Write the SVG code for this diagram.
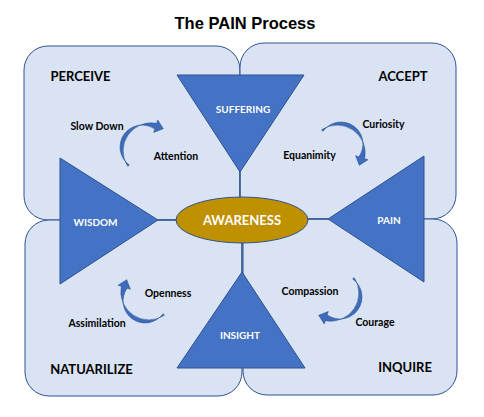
<svg xmlns="http://www.w3.org/2000/svg" xmlns:xlink="http://www.w3.org/1999/xlink" width="484" height="417" viewBox="0 0 484 417">
<style>
.box{fill:#DAE3F3;stroke:#2F528F;stroke-width:1}
.tri{fill:#4472C4;stroke:#2F528F;stroke-width:1}
.conn{stroke:#2F528F;stroke-width:1.2;fill:none}
.arr{fill:#3E6CBA;stroke:#2F5597;stroke-width:0.6}
.lbl{font-family:Lato,"Liberation Sans",sans-serif;font-weight:bold;fill:#000;text-anchor:middle}
.sm{font-size:10.5px}
.big{font-size:13px}
.wt{font-family:Lato,"Liberation Sans",sans-serif;font-weight:bold;fill:#fff;text-anchor:middle;font-size:10px}
</style>
<defs>
<path id="carrow" class="arr" d="M -20.2,16.36 A 28 28 0 0 1 8.65,-26.63 L 9.73,-29.96 L 15.34,-21.31 L 5.72,-17.6 L 6.8,-20.92 A 22 22 0 0 0 -18.65,15.1 Z"/>
</defs>
<rect width="484" height="417" fill="#fff"/>
<text x="245" y="29" style="font-family:'Liberation Sans',Arial,sans-serif;font-weight:bold;font-size:16.5px;text-anchor:middle">The PAIN Process</text>
<g id="perceive-box"><rect class="box" x="24" y="46" width="216" height="174" rx="24"/></g>
<g id="accept-box"><rect class="box" x="240" y="43" width="216" height="176" rx="24"/></g>
<g id="naturalize-box"><rect class="box" x="25" y="220" width="217" height="176" rx="24"/></g>
<g id="inquire-box"><rect class="box" x="243" y="219" width="214" height="176" rx="24"/></g>
<g id="connectors">
<line class="conn" x1="240" y1="172" x2="240" y2="197"/>
<line class="conn" x1="158" y1="220" x2="176" y2="220"/>
<line class="conn" x1="308" y1="219" x2="328" y2="219"/>
<line class="conn" x1="242" y1="242" x2="242" y2="272"/>
</g>
<g id="suffering"><polygon class="tri" points="177,75 304,75 240,172"/><text class="wt" x="243" y="113">SUFFERING</text></g>
<g id="wisdom"><polygon class="tri" points="60,158 60,284 158,220"/><text class="wt" x="95.5" y="226">WISDOM</text></g>
<g id="pain"><polygon class="tri" points="424,156 424,282 328,219"/><text class="wt" x="389" y="224">PAIN</text></g>
<g id="insight"><polygon class="tri" points="242,272 305,368 177,368"/><text class="wt" x="240" y="339">INSIGHT</text></g>
<g id="awareness"><ellipse cx="242" cy="220" rx="66" ry="23" fill="#BF9000" stroke="#2F528F" stroke-width="1"/><text class="wt" x="242" y="225" style="font-size:13px">AWARENESS</text></g>
<g id="arrows">
<use xlink:href="#carrow" transform="translate(148,150)"/>
<use xlink:href="#carrow" transform="translate(338,150) rotate(90)"/>
<use xlink:href="#carrow" transform="translate(334,294) rotate(180)"/>
<use xlink:href="#carrow" transform="translate(148,295) rotate(270)"/>
</g>
<g id="labels">
<text class="lbl big" x="80.5" y="81">PERCEIVE</text>
<text class="lbl big" x="403" y="81">ACCEPT</text>
<text class="lbl big" x="91.5" y="374">NATUARILIZE</text>
<text class="lbl big" x="405" y="372">INQUIRE</text>
<text class="lbl sm" x="97" y="130">Slow Down</text>
<text class="lbl sm" x="176" y="160">Attention</text>
<text class="lbl sm" x="383.5" y="128">Curiosity</text>
<text class="lbl sm" x="309.5" y="159">Equanimity</text>
<text class="lbl sm" x="168" y="297">Openness</text>
<text class="lbl sm" x="97" y="327">Assimilation</text>
<text class="lbl sm" x="310" y="295">Compassion</text>
<text class="lbl sm" x="375" y="326">Courage</text>
</g>
</svg>
